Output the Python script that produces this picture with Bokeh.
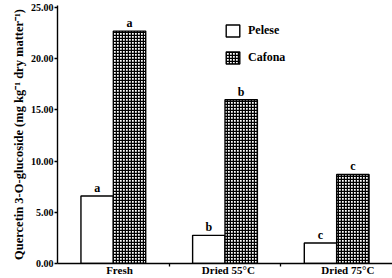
from bokeh.plotting import figure
from bokeh.models import (Range1d, FixedTicker, NumeralTickFormatter, Legend, LegendItem,
                          ColumnDataSource)
from bokeh.embed import file_html
from bokeh.resources import INLINE
from bokeh.core.properties import value

categories = ["Fresh", "Dried 55°C", "Dried 75°C"]
pelese = [6.6, 2.75, 2.0]
cafona = [22.7, 16.0, 8.7]
pelese_letters = ["a", "b", "c"]
cafona_letters = ["a", "b", "c"]
y_ticks = [0, 5, 10, 15, 20, 25]

FONT = "Liberation Serif"
idx = list(range(len(categories)))
bw = 0.29
x_p = [i + 0.5 - bw / 2 for i in idx]
x_c = [i + 0.5 + bw / 2 for i in idx]

p = figure(width=392, height=278, output_backend="svg", toolbar_location=None,
           x_range=Range1d(0, 3), y_range=Range1d(0, 25.2),
           min_border_left=57, min_border_right=0, min_border_top=5, min_border_bottom=15)
p.outline_line_color = None
p.xgrid.visible = False
p.ygrid.visible = False
p.background_fill_color = "white"
p.border_fill_color = "white"

src_p = ColumnDataSource(dict(x=x_p, top=pelese, lab=pelese_letters))
src_c = ColumnDataSource(dict(x=x_c, top=cafona, lab=cafona_letters))

r_p = p.vbar(x="x", top="top", width=bw, source=src_p, fill_color="white",
             line_color="black", line_width=1.4)
r_c = p.vbar(x="x", top="top", width=bw, source=src_c, fill_color="white",
             line_color="black", line_width=1.4, hatch_pattern="+", hatch_scale=3,
             hatch_weight=1.5, hatch_color="black")

for src in (src_p, src_c):
    p.text(x="x", y="top", text="lab", source=src, text_align="center",
           text_baseline="bottom", y_offset=-1, text_font=value(FONT),
           text_font_style="bold", text_font_size="12px", text_color="black")

# x axis
label_pos = [0.555, 1.53, 2.6]
p.xaxis.ticker = FixedTicker(ticks=label_pos, minor_ticks=[1, 2])
p.xaxis.major_label_overrides = {t: c for t, c in zip(label_pos, categories)}
p.xaxis.major_tick_out = 0
p.xaxis.major_tick_in = 0
p.xaxis.minor_tick_out = 3
p.xaxis.minor_tick_in = 0
p.xaxis.major_label_standoff = -3
p.xaxis.major_label_text_font = FONT
p.xaxis.major_label_text_font_style = "bold"
p.xaxis.major_label_text_font_size = "11px"
p.xaxis.major_label_text_color = "black"
p.xaxis.axis_line_width = 1.4
p.xaxis.axis_line_color = "black"
p.xaxis.minor_tick_line_color = "black"
p.xaxis.minor_tick_line_width = 1.3

# y axis
p.yaxis.ticker = FixedTicker(ticks=y_ticks, minor_ticks=[])
p.yaxis.formatter = NumeralTickFormatter(format="0.00")
p.yaxis.major_tick_out = 3
p.yaxis.major_tick_in = 0
p.yaxis.minor_tick_out = 0
p.yaxis.minor_tick_in = 0
p.yaxis.major_label_standoff = 1
p.yaxis.major_label_text_font = FONT
p.yaxis.major_label_text_font_style = "bold"
p.yaxis.major_label_text_font_size = "10px"
p.yaxis.major_label_text_color = "black"
p.yaxis.axis_line_width = 1.4
p.yaxis.axis_line_color = "black"
p.yaxis.major_tick_line_color = "black"
p.yaxis.major_tick_line_width = 1.3
p.yaxis.axis_label = "Quercetin 3-O-glucoside (mg kg\u207b\u00b9 dry matter\u207b\u00b9)"
p.yaxis.axis_label_text_font = FONT
p.yaxis.axis_label_text_font_style = "bold"
p.yaxis.axis_label_text_font_size = "12.5px"
p.yaxis.axis_label_text_color = "black"
p.yaxis.axis_label_standoff = 2

legend = Legend(items=[LegendItem(label="Pelese", renderers=[r_p]),
                       LegendItem(label="Cafona", renderers=[r_c])],
                location=(167, 198), orientation="vertical",
                glyph_width=17, glyph_height=15, spacing=12, padding=0, margin=0,
                label_standoff=7, label_text_font=FONT, label_text_font_style="bold",
                label_text_font_size="12px", label_text_color="black",
                border_line_color=None, background_fill_alpha=0)
p.add_layout(legend)

open("out.html", "w").write(file_html(p, INLINE))
